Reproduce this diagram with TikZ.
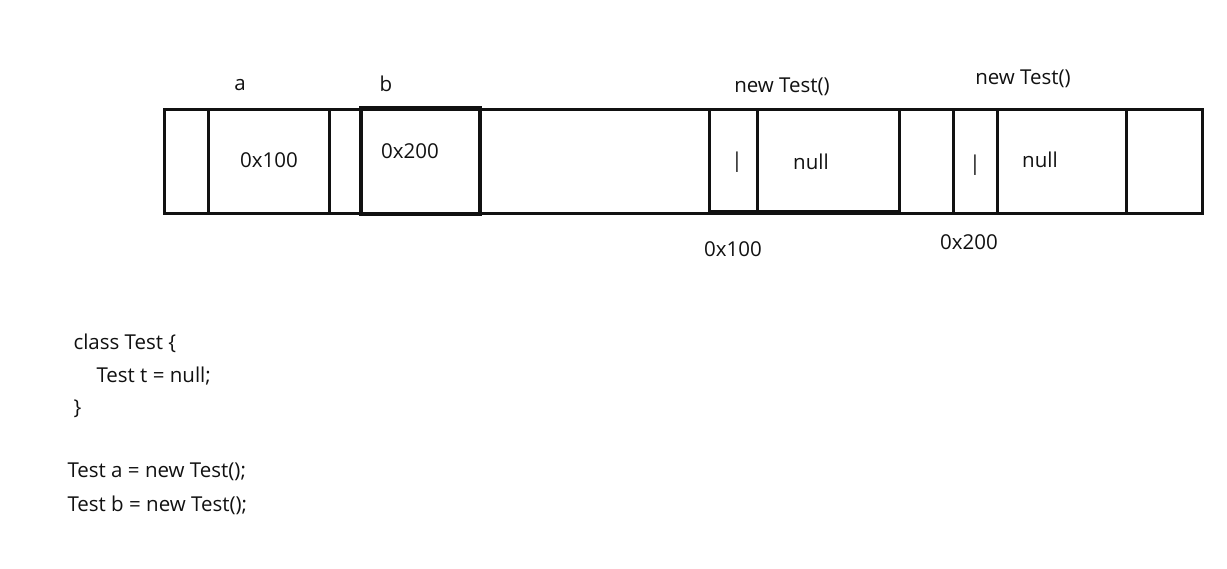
\documentclass[tikz,border=0pt]{standalone}
\usepackage{fontspec}
\setmainfont{Open Sans}
\usetikzlibrary{positioning}
\definecolor{ink}{HTML}{111111}
\tikzset{
  every picture/.style={font=\fontsize{20.5}{24}\selectfont, line width=3pt},
  cell/.style={draw=ink, line width=#1},
  cell/.default=3pt,
  label/.style={text=ink, inner sep=0pt},
  code/.style={text=ink, inner sep=0pt, anchor=west},
}
\begin{document}
\begin{tikzpicture}[x=1pt, y=-1pt]
  \useasboundingbox (0,0) rectangle (1227,569);
  % memory strip
  \draw[cell] (164,110) rectangle (1202,214);
  \draw[cell] (208,110) rectangle (329,214);
  \draw[cell=4pt] (361,108) rectangle (480,214);
  \draw[cell] (709,110) rectangle (899,212);
  \draw[cell=4.5pt] (709,212) -- (899,212);
  \draw[cell] (757,110) -- (757,212);
  \draw[cell] (953,110) rectangle (1126,214);
  \draw[cell] (997,110) -- (997,214);
  % stack variables
  \node[label] (varA) at (240,85) {a};
  \node[label] (varB) at (386,84) {b};
  \node[label] (valA) at (269,160) {0x100};
  \node[label] (valB) at (410,151) {0x200};
  % heap objects
  \node[label] (objA) at (782,87) {new Test()};
  \node[label] (barA) at (737,162) {|};
  \node[label] (nullA) at (811,162) {null};
  \node[label] (addrA) at (733,249) {0x100};
  \node[label] (objB) at (1023,79) {new Test()};
  \node[label] (barB) at (975,165) {|};
  \node[label] (nullB) at (1040,160) {null};
  \node[label] (addrB) at (969,242) {0x200};
  % source
  \node[code] (c1) at (72,343) {class Test \{};
  \node[code] (c2) at (95,376) {Test t = null;};
  \node[code] (c3) at (72,409) {\}};
  \node[code] (c4) at (66,472) {Test a = new Test();};
  \node[code] (c5) at (66,505) {Test b = new Test();};
\end{tikzpicture}
\end{document}
